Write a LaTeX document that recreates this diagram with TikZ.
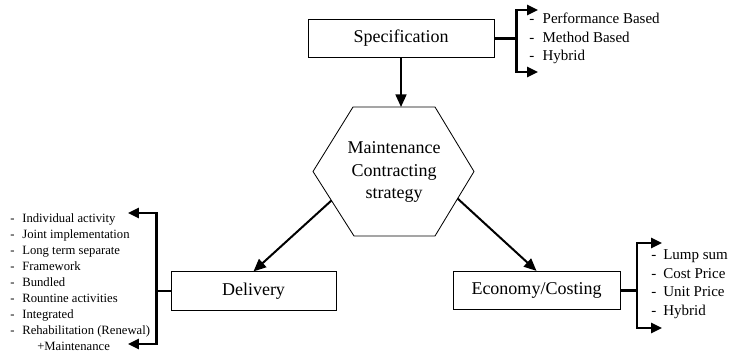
\documentclass[tikz,border=0pt]{standalone}
\usepackage{fontspec}
\setmainfont{Liberation Serif}
\usetikzlibrary{arrows.meta, positioning, calc}

\tikzset{
  box/.style={draw, line width=0.5pt, minimum height=23pt, inner sep=2pt, font=\fontsize{10.8}{13.5}\selectfont},
  arr/.style={-{Triangle[length=7.5pt, width=6.5pt]}, line width=1.2pt},
  fork/.style={-{Triangle[length=6.5pt, width=6pt]}, line width=1.4pt},
  item/.style={anchor=base west, inner sep=0pt},
}

\begin{document}
\begin{tikzpicture}[x=0.6pt, y=-0.6pt]
\useasboundingbox (0,0) rectangle (729,357);

% Main boxes
\node[box, minimum width=111.6pt] (spec) at (401,38.5) {Specification};
\node[box, minimum width=99pt] (deliv) at (253.5,291) {Delivery};
\node[box, minimum width=100.2pt] (econ) at (536.5,290.5) {Economy/Costing};

% Hexagon in the middle
\coordinate (hexNW) at (353,107);
\coordinate (hexNE) at (435,107);
\coordinate (hexE) at (474,171.5);
\coordinate (hexSE) at (435,236);
\coordinate (hexSW) at (354,236);
\coordinate (hexW) at (313,171.5);
\draw[line width=0.5pt] (hexNW) -- (hexNE) -- (hexE) -- (hexSE) -- (hexSW) -- (hexW) -- cycle;
\node[align=center, font=\fontsize{10.8}{13.5}\selectfont] (hex) at (394,172) {Maintenance\\Contracting\\strategy};

% Arrows between boxes
\coordinate (hexTop) at (spec.south |- hexNW);
\coordinate (delStart) at ($(hexW)!0.45!(hexSW)$);
\coordinate (ecoStart) at ($(hexE)!0.42!(hexSE)$);
\draw[arr] (spec.south) -- (hexTop);
\draw[arr] (delStart) -- (deliv.north);
\draw[arr] (ecoStart) -- (econ.north);

% Specification options
\draw[line width=1.4pt] (spec.east) -- ++(22,0) coordinate (specFork);
\coordinate (specUp) at (538,10);
\coordinate (specDown) at (538,72);
\draw[fork] (specFork) |- (specUp);
\draw[fork] (specFork) |- (specDown);
\foreach \i/\txt in {0/Performance Based, 1/Method Based, 2/Hybrid} {
    \node[item, font=\fontsize{9}{11}\selectfont] (specItem\i) at (529, 24+\i*18.5) {\makebox[8pt][l]{-}\txt};
}

% Delivery options
\draw[line width=1.4pt] (deliv.west) -- ++(-14,0) coordinate (delFork);
\coordinate (delUp) at (128,213);
\coordinate (delDown) at (128,344);
\draw[fork] (delFork) |- (delUp);
\draw[fork] (delFork) |- (delDown);
\foreach \i/\txt in {0/Individual activity, 1/Joint implementation, 2/Long term separate, 3/Framework, 4/Bundled, 5/Rountine activities, 6/Integrated, 7/Rehabilitation (Renewal)} {
    \node[item, font=\fontsize{7.6}{9}\selectfont] (delItem\i) at (10, 222.7+\i*16) {\makebox[7.2pt][l]{-}\txt};
}
\node[item, font=\fontsize{7.6}{9}\selectfont] (delItem8) at (37, 350.7) {+Maintenance};

% Economy options
\draw[line width=1.4pt] (econ.east) -- ++(16.5,0) coordinate (ecoFork);
\coordinate (ecoUp) at (662,243);
\coordinate (ecoDown) at (662,328);
\draw[fork] (ecoFork) |- (ecoUp);
\draw[fork] (ecoFork) |- (ecoDown);
\foreach \i/\txt in {0/Lump sum, 1/Cost Price, 2/Unit Price, 3/Hybrid} {
    \node[item, font=\fontsize{9}{11}\selectfont] (ecoItem\i) at (651, 259.5+\i*18.5) {\makebox[7.2pt][l]{-}\txt};
}
\end{tikzpicture}
\end{document}
